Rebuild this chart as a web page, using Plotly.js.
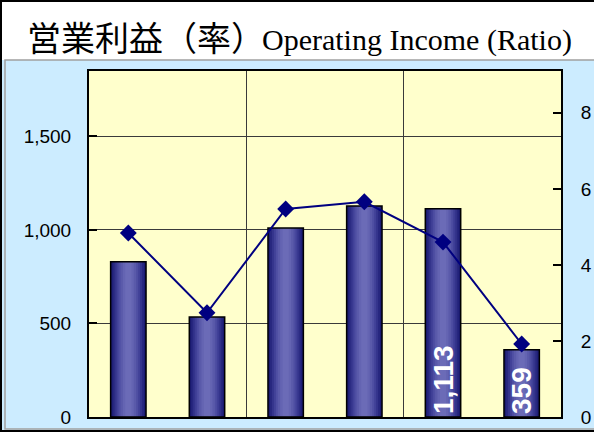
<!DOCTYPE html>
<html>
<head>
<meta charset="utf-8">
<script src="https://cdn.plot.ly/plotly-3.0.1.min.js"></script>
<style>html,body{margin:0;padding:0;background:#fff;}#chart{width:594px;height:432px;}</style>
</head>
<body>
<div id="chart"></div>
<script>
// ---- data ----
var categories = [0, 1, 2, 3, 4, 5];
var operatingIncome = [830, 535, 1011, 1128, 1113, 359];
var incomeLabels = ["", "", "", "", "1,113", "359"];
var incomeRatio = [4.84, 2.74, 5.47, 5.66, 4.6, 1.92];
var leftTickVals = [0, 500, 1000, 1500];
var leftTickText = ["0", "500", "1,000", "1,500"];
var rightTickVals = [0, 2, 4, 6, 8];
var rightTickText = ["0", "2", "4", "6", "8"];
var titleJa = "営業利益（率）";
var titleEn = "Operating Income (Ratio)";

// ---- layout geometry ----
var W = 594, H = 432, L = 89, R = 33, T = 71, B = 15;
var PW = W - L - R, PH = H - T - B;
function px2x(px) { return (px - L) / PW; }
function py2y(py) { return (H - B - py) / PH; }

// gradient layers for cylinder-like bars
var layers = [
  {w: 0.45, c: "#1b1b72"},
  {w: 0.40, c: "#27277f"},
  {w: 0.35, c: "#34348c"},
  {w: 0.30, c: "#414198"},
  {w: 0.25, c: "#4e4ea2"},
  {w: 0.20, c: "#5a5aaa"},
  {w: 0.14, c: "#6464b2"},
  {w: 0.08, c: "#6b6bb7"}
];
var traces = [];
layers.forEach(function (ly) {
  traces.push({
    type: "bar", x: categories, y: operatingIncome, width: ly.w,
    marker: {color: ly.c, line: {width: 0}},
    hoverinfo: "skip", showlegend: false, yaxis: "y"
  });
});
// outline + labels
traces.push({
  type: "bar", x: categories, y: operatingIncome, width: 0.45,
  marker: {color: "rgba(0,0,0,0)", line: {color: "#000000", width: 1.5}},
  text: incomeLabels, textposition: "inside", insidetextanchor: "start",
  textangle: -90, constraintext: "none",
  textfont: {family: "Liberation Sans, Arial, sans-serif", size: 28, color: "#ffffff", weight: "bold"},
  hoverinfo: "skip", showlegend: false, yaxis: "y"
});
traces.push({
  type: "scatter", mode: "lines+markers", x: categories, y: incomeRatio,
  yaxis: "y2",
  line: {color: "#000080", width: 2},
  marker: {symbol: "diamond", size: 13, color: "#000080"},
  hoverinfo: "skip", showlegend: false, cliponaxis: false
});

var layout = {
  width: W, height: H,
  margin: {l: L, r: R, t: T, b: B, pad: 0},
  paper_bgcolor: "#CCECFF",
  plot_bgcolor: "#FFFFCC",
  barmode: "overlay",
  font: {family: "Liberation Sans, Arial, sans-serif", size: 19, color: "#000"},
  xaxis: {
    range: [-0.5, 5.5], tickvals: [1.5, 3.5], showticklabels: false, ticks: "",
    showgrid: true, gridcolor: "#3a3a3a", gridwidth: 1,
    showline: true, linecolor: "#000", linewidth: 2, mirror: true, zeroline: false,
    fixedrange: true
  },
  yaxis: {
    range: [0, 1850], tickvals: leftTickVals, ticktext: leftTickText,
    ticks: "inside", ticklen: 8, tickwidth: 2, tickcolor: "#000",
    ticklabelstandoff: 12,
    showgrid: true, gridcolor: "#3a3a3a", gridwidth: 1,
    showline: true, linecolor: "#000", linewidth: 2, zeroline: false,
    fixedrange: true
  },
  yaxis2: {
    range: [0, 9.1], tickvals: rightTickVals, ticktext: rightTickText,
    overlaying: "y", side: "right",
    ticks: "inside", ticklen: 8, tickwidth: 2, tickcolor: "#000",
    ticklabelstandoff: 14,
    showgrid: false, showline: true, linecolor: "#000", linewidth: 2, zeroline: false,
    fixedrange: true
  },
  shapes: [
    {type: "rect", xref: "paper", yref: "paper", layer: "below",
     x0: px2x(-5), x1: px2x(W + 5), y0: py2y(60), y1: py2y(-5),
     fillcolor: "#ffffff", line: {width: 0}},
    {type: "rect", xref: "paper", yref: "paper", layer: "above",
     x0: px2x(5), x1: px2x(W + 5), y0: py2y(429), y1: py2y(60),
     fillcolor: "rgba(0,0,0,0)", line: {color: "#a0a0a0", width: 1.5}},
    {type: "rect", xref: "paper", yref: "paper", layer: "above",
     x0: px2x(1), x1: px2x(W + 5), y0: py2y(431), y1: py2y(1),
     fillcolor: "rgba(0,0,0,0)", line: {color: "#000000", width: 2}}
  ],
  annotations: [
    {xref: "paper", yref: "paper", x: px2x(25), y: py2y(36),
     xanchor: "left", yanchor: "middle", showarrow: false, text: titleJa,
     font: {family: "Noto Sans CJK JP, sans-serif", size: 34, color: "#000"}},
    {xref: "paper", yref: "paper", x: px2x(260), y: py2y(40),
     xanchor: "left", yanchor: "middle", showarrow: false, text: titleEn,
     font: {family: "Liberation Serif, Times New Roman, serif", size: 30, color: "#000"}}
  ]
};

Plotly.newPlot("chart", traces, layout, {displayModeBar: false, staticPlot: true});
</script>
</body>
</html>
